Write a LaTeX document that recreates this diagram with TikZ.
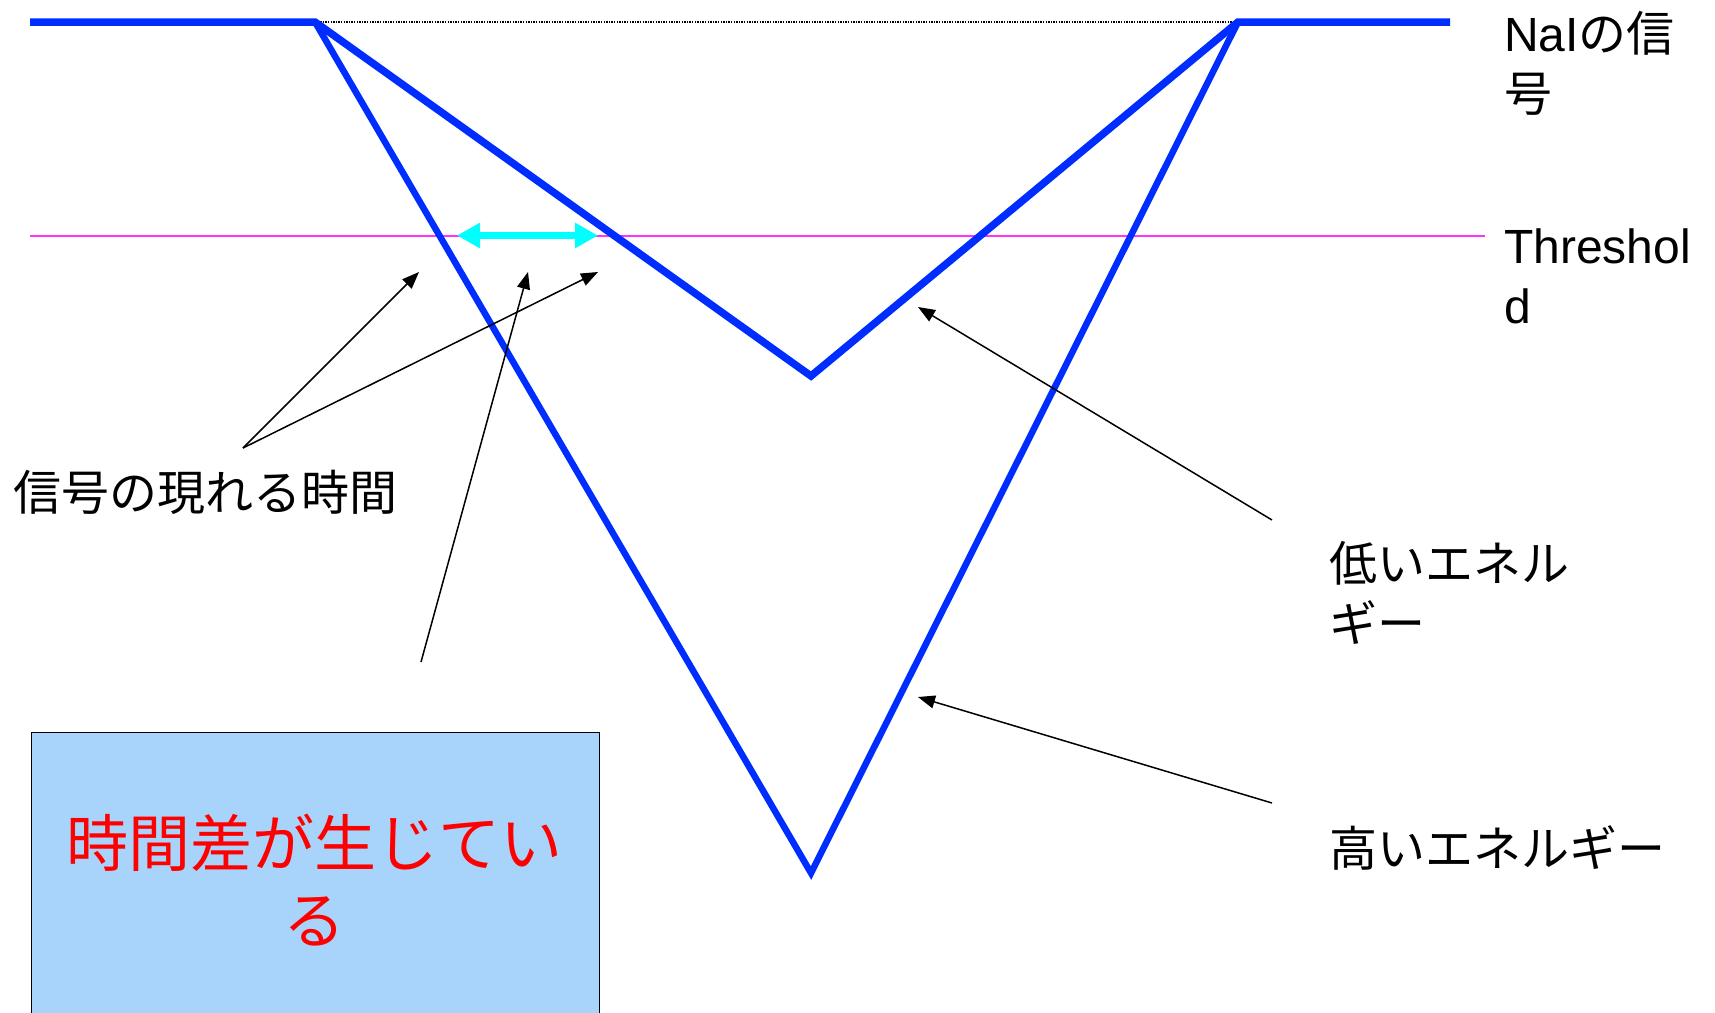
\documentclass[tikz,border=0pt]{standalone}
\usepackage{fontspec}
\setmainfont{Noto Sans CJK JP}
\newfontfamily\lat{Liberation Sans}
\usetikzlibrary{arrows.meta}
\definecolor{sigblue}{RGB}{0,45,255}
\definecolor{thrmag}{RGB}{255,50,255}
\definecolor{boxblue}{RGB}{168,212,251}
\definecolor{txtred}{RGB}{255,0,0}
\definecolor{dtcyan}{RGB}{0,255,255}
\tikzset{
  sig/.style={draw=sigblue, line width=7.5pt, line join=miter},
  sigsteep/.style={draw=sigblue, line width=6.5pt},
  note/.style={draw=black, line width=1.5pt, -{Triangle[length=17pt,width=13pt]}},
  lbl/.style={inner sep=0pt, anchor=west, align=left, font=\fontsize{48}{60}\selectfont},
}
\begin{document}
\begin{tikzpicture}[x=1pt,y=-1pt]
\useasboundingbox (0,0) rectangle (1715,1012);
\clip (0,0) rectangle (1715,1012);
\fill[white] (0,0) rectangle (1715,1012);
% waveform points
\coordinate (L0) at (30,22);
\coordinate (L1) at (315,22);
\coordinate (R1) at (1238,22);
\coordinate (R0) at (1450,22);
\coordinate (lowmin) at (811,376);
\coordinate (highmin) at (811,873);
\coordinate (th0) at (30,235.5);
\coordinate (th1) at (1485,235.5);
\coordinate (dt0) at (457,235.5);
\coordinate (dt1) at (598,235.5);
% dotted reference
\draw[black, line width=1.2pt, dash pattern=on 1.3pt off 1.3pt] (L1) -- (R1);
% threshold
\draw[thrmag, line width=2pt] (th0) -- (th1);
% high energy signal
\draw[sigsteep] (L1) -- (highmin) -- (R1);
% low energy signal
\draw[sig] (L0) -- (L1) -- (lowmin) -- (R1) -- (R0);
% time difference arrow
\draw[dtcyan, line width=7pt, {Triangle[length=23pt,width=24pt]}-{Triangle[length=23pt,width=24pt]}] (dt0) -- (dt1);
% box
\node[draw=black, line width=1.3pt, fill=boxblue, minimum width=568pt, minimum height=320pt, anchor=north west, inner sep=0pt] (box) at (30.5,732) {};
\node[inner sep=0pt, align=center, text=txtred, font=\fontsize{62}{77}\selectfont] (boxtxt) at (314.5,880) {時間差が生じてい\\る};
% labels
\node[lbl] (nai) at (1504,63) {{\lat NaI}の信\\号};
\node[lbl, font=\lat\fontsize{48}{60}\selectfont] (thr) at (1504,276) {Threshol\\d};
\node[lbl] (tlabel) at (13,492) {信号の現れる時間};
\node[lbl] (low) at (1329,593) {低いエネル\\ギー};
\node[lbl] (high) at (1329,848) {高いエネルギー};
% annotation arrows
\coordinate (tj) at (243,448);
\coordinate (t1) at (419,272);
\coordinate (t2) at (598,272);
\coordinate (dj) at (421,662);
\coordinate (d1) at (528,272);
\coordinate (lj) at (1272,520);
\coordinate (l1) at (918,307);
\coordinate (hj) at (1272,803);
\coordinate (h1) at (918,697);
\draw[note] (tj) -- (t1);
\draw[note] (tj) -- (t2);
\draw[note] (dj) -- (d1);
\draw[note] (lj) -- (l1);
\draw[note] (hj) -- (h1);
\end{tikzpicture}
\end{document}
